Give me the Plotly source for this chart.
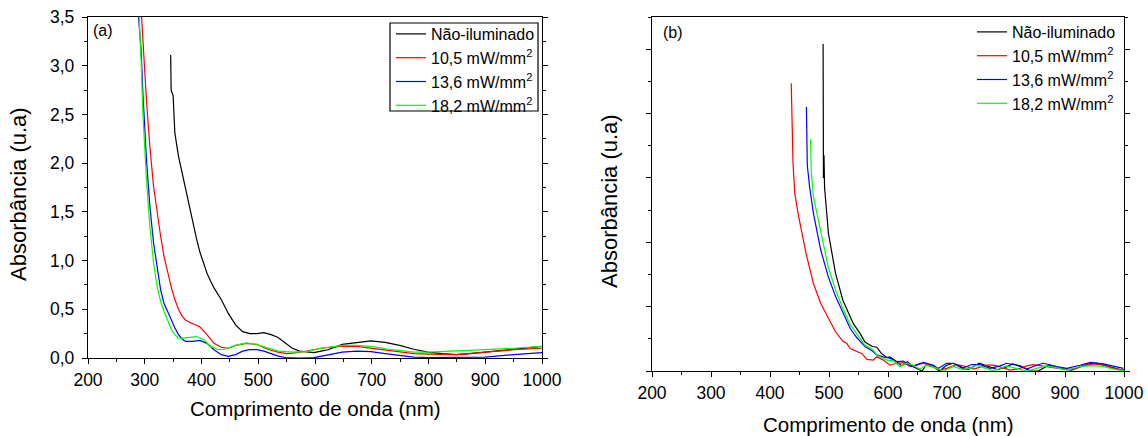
import plotly.graph_objects as go

# ---------------- data: panel (a) ----------------
wl_a_black = [345.7, 346.5, 350, 353, 359.5, 365.8, 372, 378, 384.6, 391, 397, 403.5, 409.7, 416, 422, 434.8,
              447, 460, 472.5, 485, 497.6, 510, 522.7, 535, 548, 560, 573, 585.5, 598, 610.7, 623, 648,
              673.5, 698.6, 723.7, 749, 774, 799, 824, 849, 874, 899.5, 924.6, 950, 975, 1000]
abs_a_black = [3.11, 2.75, 2.69, 2.31, 2.07, 1.90, 1.73, 1.56, 1.39, 1.23, 1.09, 0.97, 0.87, 0.79, 0.72, 0.60,
               0.46, 0.34, 0.27, 0.25, 0.25, 0.26, 0.24, 0.21, 0.15, 0.10, 0.07, 0.06, 0.055, 0.07, 0.085, 0.14,
               0.16, 0.175, 0.16, 0.13, 0.09, 0.06, 0.045, 0.035, 0.045, 0.06, 0.075, 0.085, 0.10, 0.12]

wl_a_red = [290, 293.6, 296.7, 303, 309, 315.5, 321.8, 328, 334, 340.7, 347, 353, 359.5, 365.8, 372, 378,
            384.6, 397, 409.7, 422, 434.8, 447, 460, 479, 497.6, 516.5, 535, 550, 560.5, 585.5, 610.7, 644,
            673.5, 698.6, 736, 774, 799, 849, 899.5, 950, 1000]
abs_a_red = [3.95, 3.5, 3.27, 2.65, 2.17, 1.76, 1.49, 1.25, 1.04, 0.87, 0.72, 0.60, 0.50, 0.43, 0.39, 0.37,
             0.35, 0.32, 0.24, 0.15, 0.11, 0.10, 0.13, 0.15, 0.14, 0.09, 0.06, 0.045, 0.05, 0.07, 0.10, 0.12,
             0.12, 0.10, 0.07, 0.045, 0.04, 0.035, 0.06, 0.085, 0.10]

wl_a_blue = [286, 289, 293.6, 296.7, 303, 309, 315.5, 321.8, 328, 334, 340.7, 347, 353, 359.5, 365.8, 372,
             384.6, 397, 409.7, 422, 434.8, 447, 460, 472.5, 485, 497.6, 510, 522.7, 535, 548, 573, 598,
             623, 648, 673.5, 698.6, 723.7, 749, 774, 799, 849, 899.5, 950, 1000]
abs_a_blue = [3.9, 3.5, 3.16, 2.72, 2.04, 1.56, 1.18, 0.91, 0.70, 0.56, 0.48, 0.39, 0.31, 0.24, 0.195, 0.17,
              0.17, 0.18, 0.15, 0.085, 0.034, 0.017, 0.035, 0.07, 0.085, 0.085, 0.07, 0.045, 0.02, 0.005, 0.0, 0.003,
              0.03, 0.06, 0.07, 0.065, 0.045, 0.025, 0.01, 0.005, 0.005, 0.01, 0.035, 0.055]

wl_a_green = [287, 290.4, 293.6, 296.7, 303, 309, 315.5, 321.8, 328, 334, 340.7, 347, 353, 359.5, 365.8, 378,
              391, 403.5, 416, 429, 441, 460, 479, 497.6, 516.5, 535, 560.5, 585.5, 610.7, 648, 673.5, 698.6,
              736, 774, 799, 849, 899.5, 950, 1000]
abs_a_green = [3.9, 3.5, 3.06, 2.51, 1.83, 1.35, 0.975, 0.735, 0.58, 0.48, 0.376, 0.29, 0.24, 0.205, 0.205, 0.215,
               0.22, 0.19, 0.12, 0.085, 0.09, 0.13, 0.155, 0.137, 0.10, 0.07, 0.06, 0.065, 0.10, 0.13, 0.13, 0.12,
               0.085, 0.06, 0.06, 0.07, 0.085, 0.10, 0.12]

# ---------------- data: panel (b) ----------------
wl_b_black = [490, 490.6, 491.5, 492.5, 495, 499, 505, 511, 523.5, 536, 541, 548.5, 552.6, 561, 569.6, 573.5,
              581, 589, 598, 603, 611, 623.5, 633, 642, 658, 664, 676.6, 687, 699.5, 711, 726.5, 736, 754.6,
              770, 786, 801, 811, 824, 842, 854.6, 873, 892, 911, 929.5, 945, 954.5, 973, 992, 1000]
abs_b_black = [5.08, 3.0, 3.35, 2.85, 2.62, 2.14, 1.83, 1.52, 1.10, 0.84, 0.74, 0.64, 0.585, 0.45, 0.40, 0.38,
               0.37, 0.27, 0.21, 0.22, 0.17, 0.08, 0.145, 0.07, 0.0, 0.09, 0.07, 0.0, 0.09, 0.12, 0.04, 0.02, 0.12,
               0.07, 0.02, 0.065, 0.11, 0.08, 0.0, 0.0, 0.095, 0.04, 0.015, 0.08, 0.12, 0.12, 0.07, 0.025, 0.015]

wl_b_red = [436, 437.5, 439, 442, 448.6, 461, 473.6, 486, 498.6, 511, 523.5, 530, 536, 547, 556, 564, 575,
            581, 586.5, 592, 603, 615, 626, 637, 648.6, 660, 677, 688, 699.5, 716.5, 733, 745, 767, 778.6,
            790, 807, 824, 835, 846, 869, 897, 914, 931, 948, 965, 982, 999]
abs_b_red = [4.47, 3.6, 3.23, 2.76, 2.4, 1.83, 1.36, 1.05, 0.84, 0.61, 0.46, 0.43, 0.35, 0.30, 0.27, 0.18, 0.17,
             0.22, 0.20, 0.17, 0.09, 0.12, 0.13, 0.07, 0.09, 0.12, 0.08, 0.015, 0.04, 0.10, 0.07, 0.03, 0.09, 0.09,
             0.065, 0.015, 0.04, 0.08, 0.10, 0.065, 0.03, 0.03, 0.08, 0.11, 0.09, 0.04, 0.015]

wl_b_blue = [461.7, 462.5, 463.2, 467, 473.6, 486, 498.6, 511, 523.5, 536, 547, 561, 573.5, 581, 592, 603,
             615, 626, 640, 660, 677, 685, 699.5, 711, 728, 742, 756, 773, 790, 801, 818, 835, 852, 863,
             886, 903, 925.5, 942.5, 965, 982, 999]
abs_b_blue = [4.10, 3.5, 3.2, 2.87, 2.45, 1.88, 1.47, 1.16, 0.90, 0.66, 0.52, 0.38, 0.31, 0.25, 0.22, 0.20,
              0.145, 0.155, 0.07, 0.135, 0.09, 0.04, 0.12, 0.12, 0.05, 0.10, 0.10, 0.04, 0.08, 0.12, 0.09, 0.03,
              0.09, 0.12, 0.07, 0.04, 0.09, 0.135, 0.11, 0.07, 0.04]

wl_b_green = [468.6, 470, 473.6, 486, 498.6, 511, 523.5, 536, 548.5, 561, 573.5, 581, 586, 598, 609, 620,
              632, 643, 654, 665.6, 682.6, 694, 711, 725, 739, 750, 767, 778.6, 801, 818, 835, 852, 869, 886,
              903, 925.5, 945, 965, 982, 999]
abs_b_green = [3.6, 3.1, 2.71, 2.14, 1.62, 1.26, 0.97, 0.72, 0.56, 0.40, 0.34, 0.25, 0.22, 0.17, 0.16, 0.07,
               0.12, 0.09, 0.03, 0.09, 0.04, 0.0, 0.07, 0.025, 0.04, 0.09, 0.04, 0.0, 0.08, 0.04, 0.0, 0.04, 0.08,
               0.05, 0.015, 0.07, 0.085, 0.07, 0.03, 0.005]

series_names = ["Não-iluminado", "10,5 mW/mm<sup>2</sup>", "13,6 mW/mm<sup>2</sup>", "18,2 mW/mm<sup>2</sup>"]
series_colors = ["#000000", "#ff0000", "#0000ff", "#00ff00"]

x_tickvals = [200, 300, 400, 500, 600, 700, 800, 900, 1000]
x_ticktext = ["200", "300", "400", "500", "600", "700", "800", "900", "1000"]
y_tickvals_a = [0, 0.5, 1.0, 1.5, 2.0, 2.5, 3.0, 3.5]
y_ticktext_a = ["0,0", "0,5", "1,0", "1,5", "2,0", "2,5", "3,0", "3,5"]
y_tickvals_b = [0, 1, 2, 3, 4, 5]

W, H = 1148, 436
FONT = "Liberation Sans, Arial, sans-serif"


def px_x(p):
    return p / W


def px_y(p):
    return 1 - p / H


fig = go.Figure()

data_a = [(wl_a_black, abs_a_black), (wl_a_red, abs_a_red), (wl_a_blue, abs_a_blue), (wl_a_green, abs_a_green)]
data_b = [(wl_b_black, abs_b_black), (wl_b_red, abs_b_red), (wl_b_blue, abs_b_blue), (wl_b_green, abs_b_green)]

for (xs, ys), name, col in zip(data_a, series_names, series_colors):
    fig.add_trace(go.Scatter(x=xs, y=ys, mode="lines", name=name, line=dict(color=col, width=1.2),
                             xaxis="x", yaxis="y", legend="legend"))
for (xs, ys), name, col in zip(data_b, series_names, series_colors):
    fig.add_trace(go.Scatter(x=xs, y=ys, mode="lines", name=name, line=dict(color=col, width=1.2),
                             xaxis="x2", yaxis="y2", legend="legend2"))

axis_common = dict(showgrid=False, zeroline=False, showline=True, linecolor="black", linewidth=1.3,
                   ticks="outside", ticklen=5, tickwidth=1.2, tickcolor="black", automargin=False,
                   tickfont=dict(family=FONT, size=17.5, color="black"))

fig.update_layout(
    width=W, height=H, autosize=False,
    margin=dict(l=0, r=0, t=0, b=0, pad=0, autoexpand=False),
    paper_bgcolor="white", plot_bgcolor="white",
    font=dict(family=FONT, color="black"),
    xaxis=dict(domain=[px_x(88), px_x(542)], range=[200, 1000], anchor="y", mirror=True,
               tickvals=x_tickvals, ticktext=x_ticktext, ticklabelstandoff=1,
               minor=dict(dtick=50, ticks="outside", ticklen=3, tickcolor="black"), **axis_common),
    yaxis=dict(domain=[px_y(358), px_y(17)], range=[0, 3.5], anchor="x", mirror="ticks",
               tickvals=y_tickvals_a, ticktext=y_ticktext_a, ticklabelstandoff=4,
               minor=dict(dtick=0.25, ticks="outside", ticklen=3, tickcolor="black"), **axis_common),
    xaxis2=dict(domain=[px_x(652), px_x(1124)], range=[200, 1000], anchor="y2", mirror=True,
                tickvals=x_tickvals, ticktext=x_ticktext, ticklabelstandoff=1,
                minor=dict(dtick=50, ticks="outside", ticklen=3, tickcolor="black"), **axis_common),
    yaxis2=dict(domain=[px_y(371), px_y(17)], range=[0, 5.5], anchor="x2", mirror="ticks",
                tickvals=y_tickvals_b, showticklabels=False,
                minor=dict(dtick=0.5, ticks="outside", ticklen=3, tickcolor="black"), **axis_common),
    legend=dict(x=px_x(391), y=px_y(17), xanchor="left", yanchor="top", bgcolor="rgba(0,0,0,0)",
                borderwidth=0, font=dict(family=FONT, size=16, color="black"),
                itemwidth=30, tracegroupgap=0),
    legend2=dict(x=px_x(972), y=px_y(15), xanchor="left", yanchor="top", bgcolor="rgba(0,0,0,0)",
                 borderwidth=0, font=dict(family=FONT, size=16, color="black"),
                 itemwidth=30, tracegroupgap=0),
    showlegend=True,
)

# frame of the legend in panel (a)
fig.add_shape(type="rect", xref="paper", yref="paper", x0=px_x(390), x1=px_x(538), y0=px_y(111), y1=px_y(23),
              line=dict(color="black", width=1.2), fillcolor="rgba(0,0,0,0)", layer="above")

title_font = dict(family=FONT, size=20.5, color="black")
ytitle_font = dict(family=FONT, size=22, color="black")
annotations = [
    dict(text="Comprimento de onda (nm)", x=px_x(315), y=px_y(408), xref="paper", yref="paper",
         showarrow=False, font=title_font, xanchor="center", yanchor="middle"),
    dict(text="Comprimento de onda (nm)", x=px_x(888), y=px_y(424), xref="paper", yref="paper",
         showarrow=False, font=title_font, xanchor="center", yanchor="middle"),
    dict(text="Absorbância (u.a)", x=px_x(18), y=px_y(194), xref="paper", yref="paper", textangle=-90,
         showarrow=False, font=ytitle_font, xanchor="center", yanchor="middle"),
    dict(text="Absorbância (u.a)", x=px_x(609), y=px_y(201), xref="paper", yref="paper", textangle=-90,
         showarrow=False, font=ytitle_font, xanchor="center", yanchor="middle"),
    dict(text="(a)", x=px_x(91), y=px_y(31), xref="paper", yref="paper", showarrow=False,
         font=dict(family=FONT, size=16, color="black"), xanchor="left", yanchor="middle"),
    dict(text="(b)", x=px_x(661), y=px_y(32), xref="paper", yref="paper", showarrow=False,
         font=dict(family=FONT, size=16, color="black"), xanchor="left", yanchor="middle"),
]
fig.update_layout(annotations=annotations)

fig.write_html("out.html")
